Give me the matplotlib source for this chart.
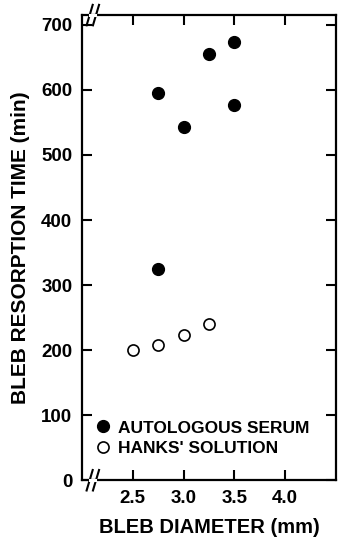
import matplotlib.pyplot as plt
from matplotlib.lines import Line2D

# data
serum_diam = [2.75, 2.75, 3.0, 3.25, 3.5, 3.5]
serum_time = [595, 325, 543, 655, 673, 577]
hanks_diam = [2.5, 2.75, 3.0, 3.25]
hanks_time = [200, 208, 223, 240]
x_ticks = [2.5, 3.0, 3.5, 4.0]
y_ticks = [0, 100, 200, 300, 400, 500, 600, 700]

plt.rcParams['font.family'] = ['Liberation Sans', 'DejaVu Sans']
plt.rcParams['font.weight'] = 'bold'

fig = plt.figure(figsize=(3.39, 5.39), dpi=100, facecolor='white')
ax = fig.add_axes([0.242, 0.109, 0.749, 0.863])

ax.plot(serum_diam, serum_time, 'o', color='black', markersize=8.5,
        label='AUTOLOGOUS SERUM', clip_on=False)
ax.plot(hanks_diam, hanks_time, 'o', mfc='white', mec='black', mew=1.2,
        markersize=8, label="HANKS' SOLUTION", clip_on=False)

ax.set_xlim(2.0, 4.5)
ax.set_ylim(0, 715)
ax.set_xticks(x_ticks)
ax.set_xticklabels([f'{v:.1f}' for v in x_ticks])
ax.set_yticks(y_ticks)

for s in ax.spines.values():
    s.set_linewidth(1.6)
ax.tick_params(direction='in', length=7, width=1.5, labelsize=13.5,
               top=True, right=True, pad=7)

ax.set_xlabel('BLEB DIAMETER (mm)', fontsize=14.5, fontweight='bold',
              labelpad=8)
ax.set_ylabel('BLEB RESORPTION TIME (min)', fontsize=15, fontweight='bold',
              labelpad=8)

# axis break marks on the x axis (bottom and top)
for yy in (0.0, 1.0):
    for dx in (0.03, 0.055):
        ax.add_line(Line2D([dx - 0.012, dx + 0.012], [yy - 0.022, yy + 0.022],
                           transform=ax.transAxes, color='black', lw=1.5,
                           clip_on=False))
    ax.add_line(Line2D([0.032, 0.053], [yy, yy], transform=ax.transAxes,
                       color='white', lw=2.2, clip_on=False, zorder=3))

leg = ax.legend(loc='lower left', bbox_to_anchor=(0.0, 0.03), frameon=False,
                prop={'size': 12.5, 'weight': 'bold'}, handletextpad=0.3,
                handlelength=1.2, borderaxespad=0.2, labelspacing=0.3)

fig.savefig('out.png', dpi=100)
